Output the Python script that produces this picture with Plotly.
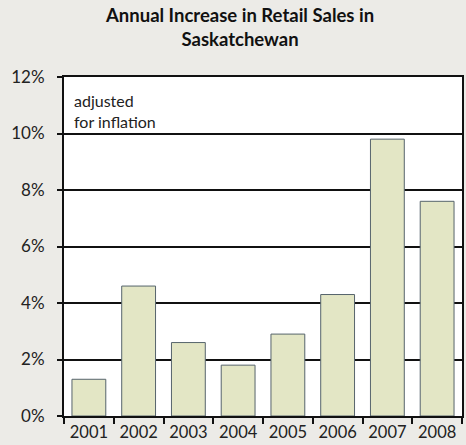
import plotly.graph_objects as go

years = ["2001", "2002", "2003", "2004", "2005", "2006", "2007", "2008"]
increase = [1.3, 4.6, 2.6, 1.8, 2.9, 4.3, 9.8, 7.6]
y_ticks = [0, 2, 4, 6, 8, 10, 12]
y_labels = ["0%", "2%", "4%", "6%", "8%", "10%", "12%"]

fig = go.Figure()
fig.add_trace(go.Bar(
    x=years, y=increase,
    marker=dict(color="#e3e6c5", line=dict(color="#56646c", width=1)),
    width=0.68,
))

fig.update_layout(
    width=466, height=445,
    margin=dict(l=64, r=4, t=77, b=29, autoexpand=False),
    paper_bgcolor="#ecebe7",
    plot_bgcolor="#ffffff",
    showlegend=False,
    font=dict(family="Lato", color="#222222", size=17),
    xaxis=dict(
        type="category", tickson="boundaries", tickangle=0, automargin=False,
        ticks="outside", ticklen=6, tickwidth=2, tickcolor="#111111",
        showline=True, linecolor="#111111", linewidth=2, mirror=True,
        showgrid=False, tickfont=dict(size=16.5), ticklabelstandoff=0,
    ),
    yaxis=dict(
        range=[0, 12], tickvals=y_ticks, ticktext=y_labels, automargin=False,
        ticks="outside", ticklen=5, tickwidth=2, tickcolor="#111111",
        showline=True, linecolor="#111111", linewidth=2, mirror=True,
        showgrid=True, gridcolor="#111111", gridwidth=2,
        zeroline=False, tickfont=dict(size=17), ticklabelstandoff=9,
    ),
    annotations=[
        dict(
            text="<b>Annual Increase in Retail Sales in<br>Saskatchewan</b>",
            xref="paper", yref="paper", x=0.44, y=1.22,
            xanchor="center", yanchor="top", align="center", showarrow=False,
            font=dict(family="Lato", size=18.5, color="#111111"),
        ),
        dict(
            text="adjusted<br>for inflation", xref="paper", yref="paper",
            x=0.02, y=0.965, xanchor="left", yanchor="top", align="left",
            showarrow=False, font=dict(family="Lato", size=16, color="#222222"),
        ),
    ],
)

fig.write_html("out.html")
